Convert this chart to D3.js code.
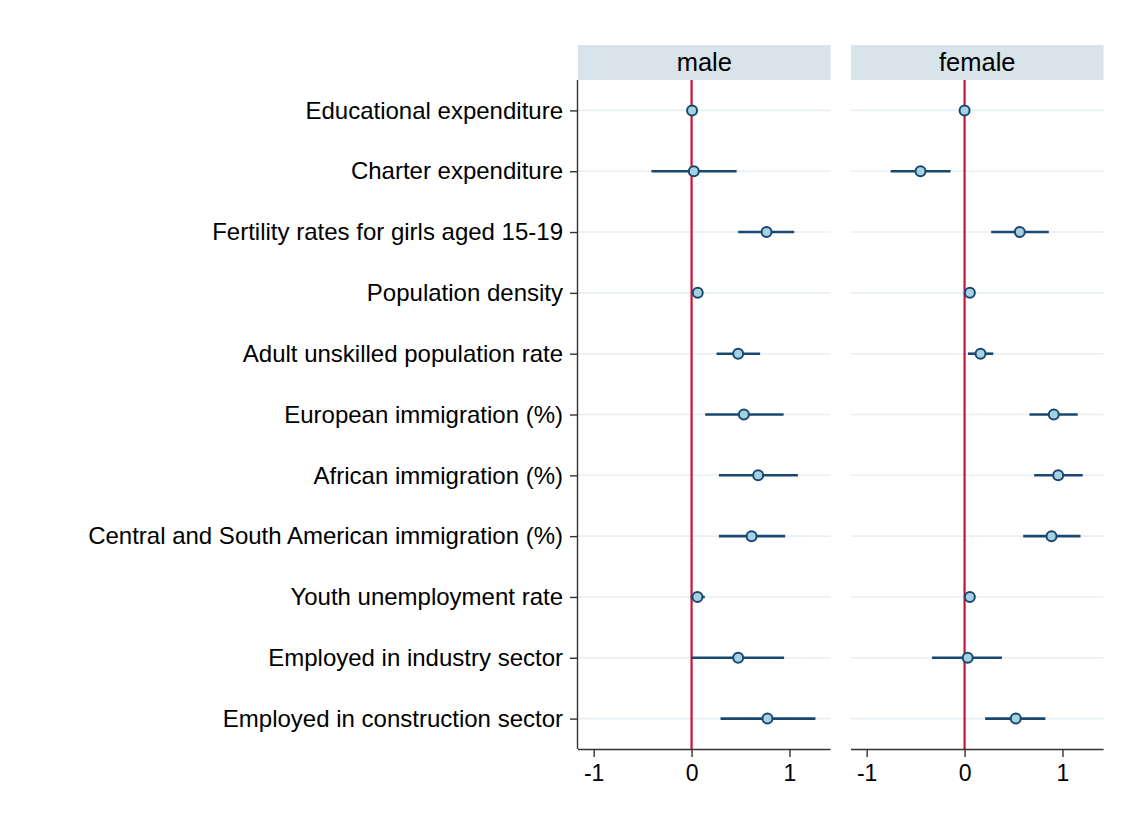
<!DOCTYPE html>
<html>
<head>
<meta charset="utf-8">
<script src="https://cdn.jsdelivr.net/npm/d3@7"></script>
<style>
  html, body { margin: 0; padding: 0; background: #fff; }
  svg { display: block; }
  text { font-family: "Liberation Sans", Arial, Helvetica, sans-serif; fill: #000; }
</style>
</head>
<body>
<svg id="chart" width="1133" height="829"></svg>
<script>
// ---- data ----
const categories = [
  "Educational expenditure",
  "Charter expenditure",
  "Fertility rates for girls aged 15-19",
  "Population density",
  "Adult unskilled population rate",
  "European immigration (%)",
  "African immigration (%)",
  "Central and South American immigration (%)",
  "Youth unemployment rate",
  "Employed in industry sector",
  "Employed in construction sector"
];
const panels = ["male", "female"];
const maleEst = [0.005, 0.023, 0.766, 0.063, 0.476, 0.534, 0.68, 0.613, 0.06, 0.476, 0.775];
const maleLo  = [-0.02, -0.41, 0.476, 0.04, 0.255, 0.139, 0.279, 0.279, -0.01, 0.0, 0.296];
const maleHi  = [0.03, 0.46, 1.048, 0.085, 0.70, 0.94, 1.086, 0.956, 0.135, 0.945, 1.265];
const femaleEst = [0.0, -0.45, 0.564, 0.054, 0.163, 0.911, 0.956, 0.888, 0.054, 0.032, 0.523];
const femaleLo  = [-0.02, -0.755, 0.272, 0.035, 0.034, 0.663, 0.711, 0.599, 0.03, -0.333, 0.21];
const femaleHi  = [0.02, -0.143, 0.86, 0.075, 0.293, 1.156, 1.207, 1.184, 0.08, 0.382, 0.825];
const xTicks = [-1, 0, 1];
const xDomain = [-1.16, 1.42];

// ---- layout ----
const svg = d3.select("#chart");
const plotTop = 80, plotBottom = 749;
const headerTop = 45;
const panelX = [[578, 830.6], [851, 1103.6]];
const series = [
  { est: maleEst, lo: maleLo, hi: maleHi },
  { est: femaleEst, lo: femaleLo, hi: femaleHi }
];

const y = d3.scalePoint().domain(categories).range([plotTop, plotBottom]).padding(0.5);

const navy = "#1a476f", red = "#cc1138", grid = "#e8f0f3", header = "#d8e4ea";

panels.forEach((p, pi) => {
  const [x0, x1] = panelX[pi];
  const x = d3.scaleLinear().domain(xDomain).range([x0, x1]);
  const g = svg.append("g");
  const s = series[pi];

  // header strip
  g.append("rect").attr("x", x0).attr("y", headerTop).attr("width", x1 - x0).attr("height", plotTop - headerTop)
    .attr("fill", header);
  g.append("text").attr("x", (x0 + x1) / 2).attr("y", plotTop - 9).attr("text-anchor", "middle")
    .attr("font-size", 25.5).text(p);

  // gridlines
  g.selectAll(".grid").data(categories).join("line")
    .attr("x1", x0).attr("x2", x1)
    .attr("y1", d => y(d)).attr("y2", d => y(d))
    .attr("stroke", grid).attr("stroke-width", 1.6);

  // reference line at 0
  g.append("line").attr("x1", x(0)).attr("x2", x(0)).attr("y1", plotTop).attr("y2", plotBottom)
    .attr("stroke", red).attr("stroke-width", 2.2);

  // CIs
  g.selectAll(".ci").data(categories).join("line")
    .attr("x1", (d, i) => x(s.lo[i])).attr("x2", (d, i) => x(s.hi[i]))
    .attr("y1", d => y(d)).attr("y2", d => y(d))
    .attr("stroke", navy).attr("stroke-width", 2.6);

  // points
  g.selectAll(".pt").data(categories).join("circle")
    .attr("cx", (d, i) => x(s.est[i])).attr("cy", d => y(d)).attr("r", 5)
    .attr("fill", "#a3d2e1").attr("stroke", navy).attr("stroke-width", 2);

  // x axis
  const xa = g.append("g").attr("transform", `translate(0,${plotBottom})`)
    .call(d3.axisBottom(x).tickValues(xTicks).tickSize(8).tickPadding(8).tickFormat(d3.format("d")));
  xa.select(".domain").attr("d", `M${x0},0.5H${x1}`).attr("stroke", "#333").attr("stroke-width", 1.4);
  xa.selectAll(".tick line").attr("stroke", "#333").attr("stroke-width", 1.4);
  xa.selectAll(".tick text").attr("font-size", 23).attr("font-family", '"Liberation Sans", Arial, sans-serif')
    .attr("fill", "#000").text(d => d < 0 ? "-" + Math.abs(d) : d);

  // y axis only on first panel
  if (pi === 0) {
    const ya = g.append("g").attr("transform", `translate(${x0},0)`)
      .call(d3.axisLeft(y).tickSize(8).tickPadding(7));
    ya.select(".domain").attr("d", `M-0.5,${plotTop}V${plotBottom}`).attr("stroke", "#333").attr("stroke-width", 1.4);
    ya.selectAll(".tick line").attr("stroke", "#333").attr("stroke-width", 1.4);
    ya.selectAll(".tick text").attr("font-size", 24).attr("font-family", '"Liberation Sans", Arial, sans-serif')
      .attr("fill", "#000");
  }
});
</script>
</body>
</html>
